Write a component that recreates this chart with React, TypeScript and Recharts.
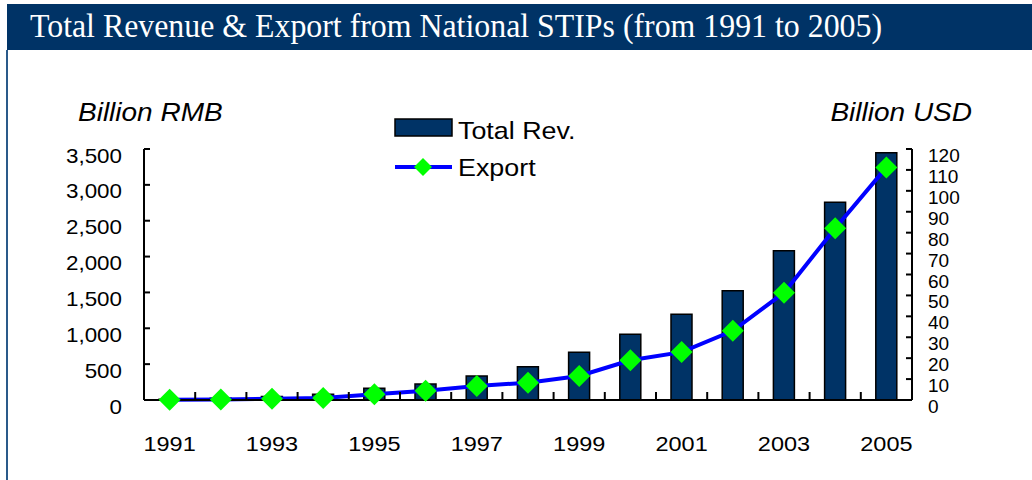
import React from 'react';
import { ComposedChart, Bar, Line, XAxis, YAxis } from 'recharts';

const years = ['1991', '1992', '1993', '1994', '1995', '1996', '1997', '1998', '1999', '2000', '2001', '2002', '2003', '2004', '2005'];
// Billion RMB
const totalRev = [10, 25, 50, 80, 163, 223, 335, 464, 665, 916, 1195, 1524, 2082, 2757, 3449];
// Billion USD
const exportUsd = [0.1, 0.2, 0.6, 0.9, 2.7, 4.4, 6.7, 8.3, 11.5, 19.0, 22.9, 33.1, 51.3, 82.1, 111.2];
const leftTicks = [0, 500, 1000, 1500, 2000, 2500, 3000, 3500];
const rightTicks = [0, 10, 20, 30, 40, 50, 60, 70, 80, 90, 100, 110, 120];

const data = years.map((year, i) => ({ year, rev: totalRev[i], exp: exportUsd[i] }));

const W = 1032;
const H = 480;
const PLOT_LEFT = 144;
const PLOT_RIGHT = 912;
const PLOT_TOP = 149;
const PLOT_BOTTOM = 400;
const BAND = (PLOT_RIGHT - PLOT_LEFT) / years.length;

const NAVY = '#003366';
const SANS = '"Liberation Sans", Arial, sans-serif';

const fmt = (v: number) => v.toLocaleString('en-US');

const LeftTick = (props: any) => {
  const { y, payload } = props;
  return (
    <g>
      <line x1={PLOT_LEFT} x2={PLOT_LEFT + 6} y1={y} y2={y} stroke="#000" strokeWidth={2} />
      <text
        transform={`translate(122,${y + 13.5}) scale(1.12,1)`}
        textAnchor="end"
        fontSize={20}
        fontFamily={SANS}
        fill="#000"
      >
        {fmt(payload.value)}
      </text>
    </g>
  );
};

const RightTick = (props: any) => {
  const { y, payload } = props;
  return (
    <g>
      <line x1={PLOT_RIGHT - 6} x2={PLOT_RIGHT} y1={y} y2={y} stroke="#000" strokeWidth={2} />
      <text x={928} y={y + 13} textAnchor="start" fontSize={19} fontFamily={SANS} fill="#000">
        {payload.value}
      </text>
    </g>
  );
};

// ticks sit on the category boundaries, labels every other year
const BottomTick = (props: any) => {
  const { x, index, payload } = props;
  const edge = x - BAND / 2;
  return (
    <g>
      {index > 0 && (
        <line x1={edge} x2={edge} y1={PLOT_BOTTOM - 8} y2={PLOT_BOTTOM} stroke="#000" strokeWidth={2} />
      )}
      {index % 2 === 0 && (
        <text
          transform={`translate(${x},451) scale(1.12,1)`}
          textAnchor="middle"
          fontSize={21}
          fontFamily={SANS}
          fill="#000"
        >
          {payload.value}
        </text>
      )}
    </g>
  );
};

const Diamond = (props: any) => {
  const { cx, cy } = props;
  if (cx == null || cy == null) return null;
  const r = 11;
  return <path d={`M${cx},${cy - r}L${cx + r},${cy}L${cx},${cy + r}L${cx - r},${cy}Z`} fill="#00FF00" />;
};

export default function App() {
  return (
    <div style={{ position: 'absolute', left: 0, top: 0, width: W, height: H, background: '#fff', overflow: 'hidden' }}>
      <svg width={W} height={H} style={{ position: 'absolute', left: 0, top: 0 }}>
        <rect x={7} y={4} width={W - 7} height={46} fill={NAVY} />
        <text
          x={30}
          y={37}
          fontSize={33}
          fontFamily='"Liberation Serif", "Times New Roman", serif'
          fill="#fff"
          textLength={852}
          lengthAdjust="spacingAndGlyphs"
        >
          Total Revenue &amp; Export from National STIPs (from 1991 to 2005)
        </text>
        <line x1={7} x2={7} y1={50} y2={H} stroke="#2a5a8a" strokeWidth={2} />
        <text
          transform="translate(78,121) scale(1.12,1)"
          fontSize={25}
          fontStyle="italic"
          fontFamily={SANS}
          fill="#000"
        >
          Billion RMB
        </text>
        <text
          transform="translate(972,121) scale(1.12,1)"
          textAnchor="end"
          fontSize={25}
          fontStyle="italic"
          fontFamily={SANS}
          fill="#000"
        >
          Billion USD
        </text>
        {/* legend */}
        <rect x={395} y={119} width={57} height={17} fill={NAVY} stroke="#000" strokeWidth={1.5} />
        <text transform="translate(458,139) scale(1.12,1)" fontSize={24} fontFamily={SANS} fill="#000">
          Total Rev.
        </text>
        <line x1={395} x2={452} y1={167} y2={167} stroke="#0000FF" strokeWidth={4} />
        <path d="M423,158L432,167L423,176L414,167Z" fill="#00FF00" />
        <text transform="translate(458,176) scale(1.12,1)" fontSize={24} fontFamily={SANS} fill="#000">
          Export
        </text>
      </svg>
      <div style={{ position: 'absolute', left: 0, top: 0 }}>
        <ComposedChart
          width={W}
          height={H}
          data={data}
          margin={{ top: PLOT_TOP, right: 0, left: 0, bottom: 0 }}
        >
          <XAxis
            dataKey="year"
            interval={0}
            height={H - PLOT_BOTTOM}
            tickLine={false}
            axisLine={{ stroke: '#000', strokeWidth: 2 }}
            tick={<BottomTick />}
          />
          <YAxis
            yAxisId="left"
            orientation="left"
            width={PLOT_LEFT}
            domain={[0, 3500]}
            ticks={leftTicks}
            interval={0}
            tickLine={false}
            axisLine={{ stroke: '#000', strokeWidth: 2 }}
            tick={<LeftTick />}
          />
          <YAxis
            yAxisId="right"
            orientation="right"
            width={W - PLOT_RIGHT}
            domain={[0, 120]}
            ticks={rightTicks}
            interval={0}
            tickLine={false}
            axisLine={{ stroke: '#000', strokeWidth: 2 }}
            tick={<RightTick />}
          />
          <Bar
            yAxisId="left"
            dataKey="rev"
            name="Total Rev."
            fill={NAVY}
            stroke="#000"
            strokeWidth={1.5}
            barSize={21}
            isAnimationActive={false}
          />
          <Line
            yAxisId="right"
            type="linear"
            dataKey="exp"
            name="Export"
            stroke="#0000FF"
            strokeWidth={4}
            dot={<Diamond />}
            activeDot={false}
            isAnimationActive={false}
          />
        </ComposedChart>
      </div>
    </div>
  );
}
